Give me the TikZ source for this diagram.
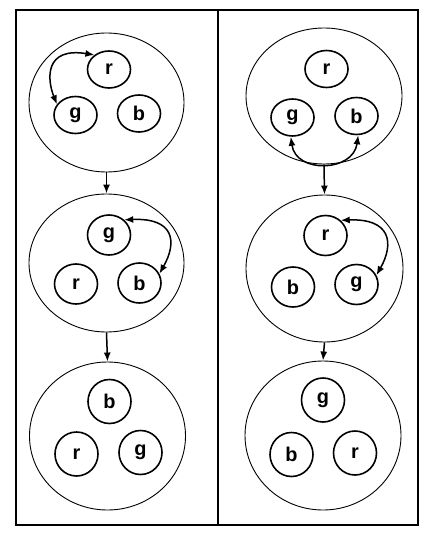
\documentclass[tikz,border=0pt]{standalone}
\usepackage{fontspec}
\setmainfont{Liberation Sans}
\usetikzlibrary{shapes.geometric,arrows.meta}
\tikzset{
  bigcirc/.style={draw, ellipse, line width=0.9bp, inner sep=0pt},
  ball/.style={draw, ellipse, line width=1.6bp, minimum width=43bp, inner sep=0pt,
    font=\fontsize{20}{22}\selectfont\bfseries},
  rowa/.style={ball, minimum height=37bp},
  rowb/.style={ball, minimum height=40bp},
  rowc/.style={ball, minimum height=44bp},
  flow/.style={line width=1.5bp, -{Latex[length=9bp,width=7bp]}},
  swapar/.style={line width=1.5bp, {Latex[length=9bp,width=7bp]}-{Latex[length=9bp,width=7bp]}},
  frame/.style={line width=2bp},
}
\begin{document}
\begin{tikzpicture}[x=1bp,y=1bp]
\useasboundingbox (0,0) rectangle (436,-545);
\draw[frame] (16,-10) rectangle (418,-525);
\draw[line width=1.4bp] (218,-10) -- (218,-525);

% left column
\node[bigcirc, minimum width=155bp, minimum height=139bp] (L1) at (106.5,-102.5) {};
\node[rowa] (l1r) at (109,-69.5) {r};
\node[rowa] (l1g) at (75.5,-115) {g};
\node[rowa] (l1b) at (139,-113.5) {b};

\node[bigcirc, minimum width=155bp, minimum height=138bp] (L2) at (106.5,-263) {};
\node[rowb] (l2g) at (109,-235) {g};
\node[rowb] (l2r) at (76,-284) {r};
\node[rowb] (l2b) at (139.5,-283) {b};

\node[bigcirc, minimum width=156bp, minimum height=148bp] (L3) at (107.5,-436) {};
\node[rowc] (l3b) at (109.5,-401.5) {b};
\node[rowc] (l3r) at (76.5,-454) {r};
\node[rowc] (l3g) at (140.5,-452.5) {g};

% right column
\node[bigcirc, minimum width=156bp, minimum height=136bp] (R1) at (324,-96) {};
\node[rowa] (r1r) at (326.5,-69) {r};
\node[rowa] (r1g) at (292.5,-117.5) {g};
\node[rowa] (r1b) at (356.5,-116) {b};

\node[bigcirc, minimum width=157bp, minimum height=147bp] (R2) at (324.5,-268.5) {};
\node[rowb] (r2r) at (325.5,-235.5) {r};
\node[rowb] (r2b) at (293,-287) {b};
\node[rowb] (r2g) at (356.5,-284.5) {g};

\node[bigcirc, minimum width=156bp, minimum height=149bp] (R3) at (323,-435.5) {};
\node[rowc] (r3g) at (323,-400) {g};
\node[rowc] (r3b) at (291.5,-454.5) {b};
\node[rowc] (r3r) at (355,-453) {r};

% flow arrows
\draw[flow] (L1.south) -- (L2.north);
\draw[flow] (L2.south) -- (L3.north);
\draw[flow] (R1.south) -- (R2.north);
\draw[flow] (R2.south) -- (R3.north);

% swap arrows
\draw[swapar] (l1r.135) .. controls +(-50,8) and +(-10,25) .. (l1g.150);
\draw[swapar] (r1g.265) .. controls +(5,-37) and +(-5,-37) .. (r1b.275);
\draw[swapar] (l2g.45) .. controls +(50,2) and +(18,32) .. (l2b.25);
\draw[swapar] (r2r.45) .. controls +(50,2) and +(18,32) .. (r2g.25);
\end{tikzpicture}
\end{document}
